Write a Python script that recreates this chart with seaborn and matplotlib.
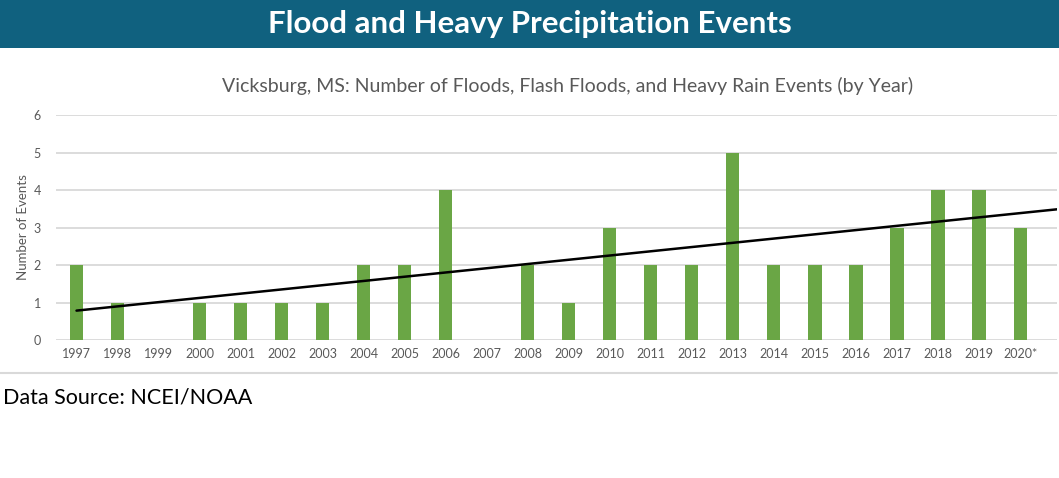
import numpy as np
import pandas as pd
import matplotlib
matplotlib.use('Agg')
import matplotlib.pyplot as plt
import seaborn as sns

# Chart data
years = ['1997', '1998', '1999', '2000', '2001', '2002', '2003', '2004', '2005', '2006',
         '2007', '2008', '2009', '2010', '2011', '2012', '2013', '2014', '2015', '2016',
         '2017', '2018', '2019', '2020*']
events = [2, 1, 0, 1, 1, 1, 1, 2, 2, 4, 0, 2, 1, 3, 2, 2, 5, 2, 2, 2, 3, 4, 4, 3]
y_ticks = [0, 1, 2, 3, 4, 5, 6]

header = 'Flood and Heavy Precipitation Events'
title = 'Vicksburg, MS: Number of Floods, Flash Floods, and Heavy Rain Events (by Year)'
source = 'Data Source: NCEI/NOAA'

df = pd.DataFrame({'year': years, 'events': events})

sns.set_theme(style='white')
plt.rcParams['font.family'] = ['Lato', 'DejaVu Sans']

W, H = 1059, 478
fig = plt.figure(figsize=(W / 100, H / 100), dpi=100)
fig.patch.set_facecolor('white')

# header band
band = fig.add_axes([0, 1 - 48 / H, 1, 48 / H])
band.set_facecolor('#10617f')
band.set_xticks([])
band.set_yticks([])
for s in band.spines.values():
    s.set_visible(False)
band.text(0.5, 0.5, header, color='white', fontsize=22.5, fontweight='bold',
          ha='center', va='center', transform=band.transAxes)

# main chart
ax = fig.add_axes([56 / W, (H - 340) / H, (1057 - 56) / W, 225 / H])
sns.barplot(data=df, x='year', y='events', color='#6aa645', width=0.32,
            saturation=1, linewidth=0, ax=ax, zorder=3)

# linear trendline fitted to the counts
idx = np.arange(len(events))
slope, intercept = np.polyfit(idx, events, 1)
xs = np.array([0, 23.9])
ax.plot(xs, intercept + slope * xs, color='black', lw=1.8, zorder=4)

ax.set_xlim(-0.5, 23.9)
ax.set_ylim(0, 6)
ax.set_yticks(y_ticks)
ax.yaxis.grid(True, color='#d9d9d9', lw=1.3)
ax.set_axisbelow(True)
for s in ax.spines.values():
    s.set_visible(False)
ax.tick_params(axis='both', length=0, labelsize=9, colors='#595959')
ax.tick_params(axis='x', pad=6)
ax.tick_params(axis='y', pad=11)
ax.set_xlabel('')
ax.set_ylabel('Number of Events', fontsize=9.5, color='#595959', labelpad=3)

fig.text(568 / W, 1 - 86 / H, title, fontsize=14, color='#595959',
         ha='center', va='center')

# separator below the chart
fig.add_artist(plt.Line2D([0, 1057 / W], [1 - 373 / H, 1 - 373 / H],
                          color='#d9d9d9', lw=1.5))

fig.text(3 / W, 1 - 397 / H, source, fontsize=15.5, color='black',
         ha='left', va='center')

fig.savefig('out.png', dpi=100)
